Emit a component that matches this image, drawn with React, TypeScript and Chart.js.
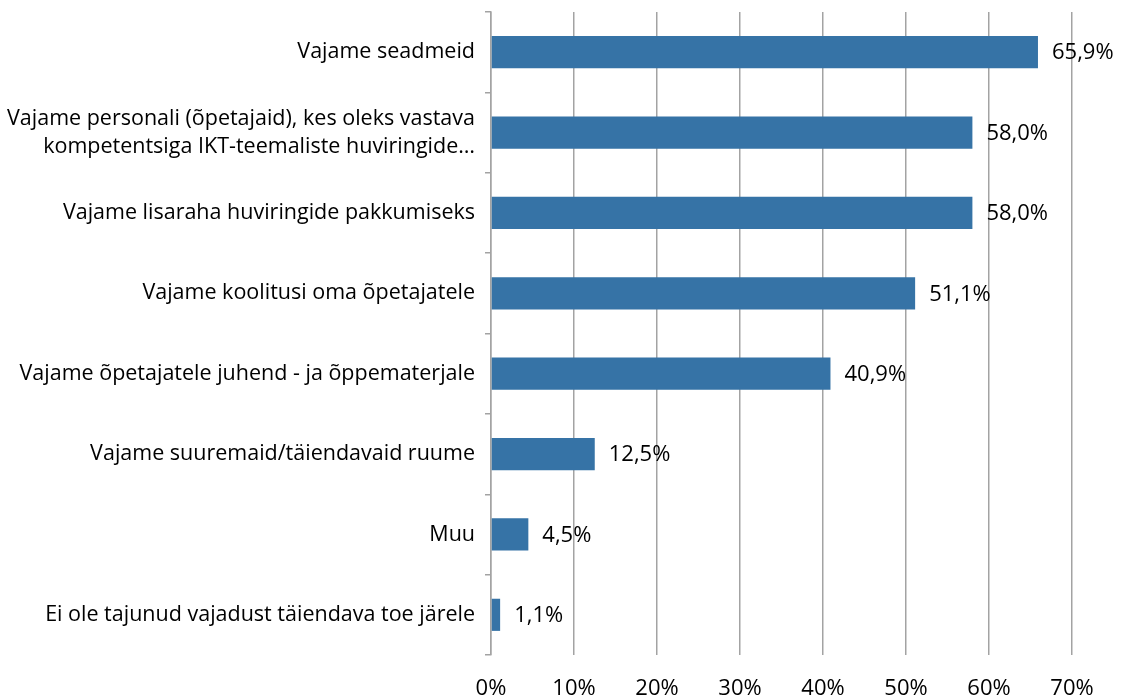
import React, { useEffect, useRef } from "react";
import { Chart, registerables } from "chart.js";

Chart.register(...registerables);

const categories: (string | string[])[] = [
  "Vajame seadmeid",
  ["Vajame personali (õpetajaid), kes oleks vastava", "kompetentsiga IKT-teemaliste huviringide…"],
  "Vajame lisaraha huviringide pakkumiseks",
  "Vajame koolitusi oma õpetajatele",
  "Vajame õpetajatele juhend - ja õppematerjale",
  "Vajame suuremaid/täiendavaid ruume",
  "Muu",
  "Ei ole tajunud vajadust täiendava toe järele",
];
const values = [65.9, 58.0, 58.0, 51.1, 40.9, 12.5, 4.5, 1.1];
const xTicks = [0, 10, 20, 30, 40, 50, 60, 70];

const FONT = "'Open Sans', sans-serif";
const GRID = "#A3A3A3";
const BAR = "#3673A6";

const fmt = (v: number) => v.toFixed(1).replace(".", ",") + "%";

const labelPlugin = {
  id: "valueLabels",
  afterDatasetsDraw(chart: any) {
    const ctx = chart.ctx;
    const meta = chart.getDatasetMeta(0);
    ctx.save();
    ctx.font = `22px ${FONT}`;
    ctx.fillStyle = "#000";
    ctx.textAlign = "left";
    ctx.textBaseline = "middle";
    meta.data.forEach((bar: any, i: number) => {
      ctx.fillText(fmt(values[i]), bar.x + 14, bar.y + 1);
    });
    ctx.restore();
  },
};

export default function App() {
  const ref = useRef<HTMLCanvasElement>(null);
  useEffect(() => {
    if (!ref.current) return;
    const chart = new Chart(ref.current, {
      type: "bar",
      data: {
        labels: categories,
        datasets: [
          {
            data: values,
            backgroundColor: BAR,
            borderWidth: 0,
            categoryPercentage: 1,
            barPercentage: 0.4,
          },
        ],
      },
      options: {
        indexAxis: "y",
        animation: false,
        responsive: false,
        maintainAspectRatio: false,
        layout: { padding: { top: 12, right: 51, left: 0, bottom: 0 } },
        plugins: {
          legend: { display: false },
          tooltip: { enabled: false },
        },
        scales: {
          x: {
            min: 0,
            max: 70,
            afterBuildTicks: (axis: any) => {
              axis.ticks = xTicks.map((v) => ({ value: v }));
            },
            afterFit: (axis: any) => {
              axis.height = 45;
              axis.paddingLeft = 0;
              axis.paddingRight = 0;
            },
            grid: {
              color: GRID,
              lineWidth: 1.5,
              drawTicks: false,
            },
            border: { display: false },
            ticks: {
              color: "#000",
              padding: 21,
              font: { family: FONT, size: 22 },
              callback: (v: any) => v + "%",
              maxRotation: 0,
            },
          },
          y: {
            afterFit: (axis: any) => {
              axis.width = 491;
              axis.paddingTop = 0;
              axis.paddingBottom = 0;
            },
            offset: true,
            grid: {
              offset: true,
              drawOnChartArea: false,
              drawTicks: true,
              tickLength: 6,
              color: GRID,
              lineWidth: 1.5,
            },
            border: { display: true, color: GRID, width: 1.5 },
            ticks: {
              color: "#000",
              padding: 10,
              font: { family: FONT, size: 21.5, lineHeight: 1.3 },
            },
          },
        },
      },
      plugins: [labelPlugin],
    });
    return () => chart.destroy();
  }, []);
  return (
    <div style={{ position: "fixed", left: 0, top: 0, width: 1123, height: 700, background: "#fff" }}>
      <canvas ref={ref} width={1123} height={700} style={{ width: 1123, height: 700 }} />
    </div>
  );
}
